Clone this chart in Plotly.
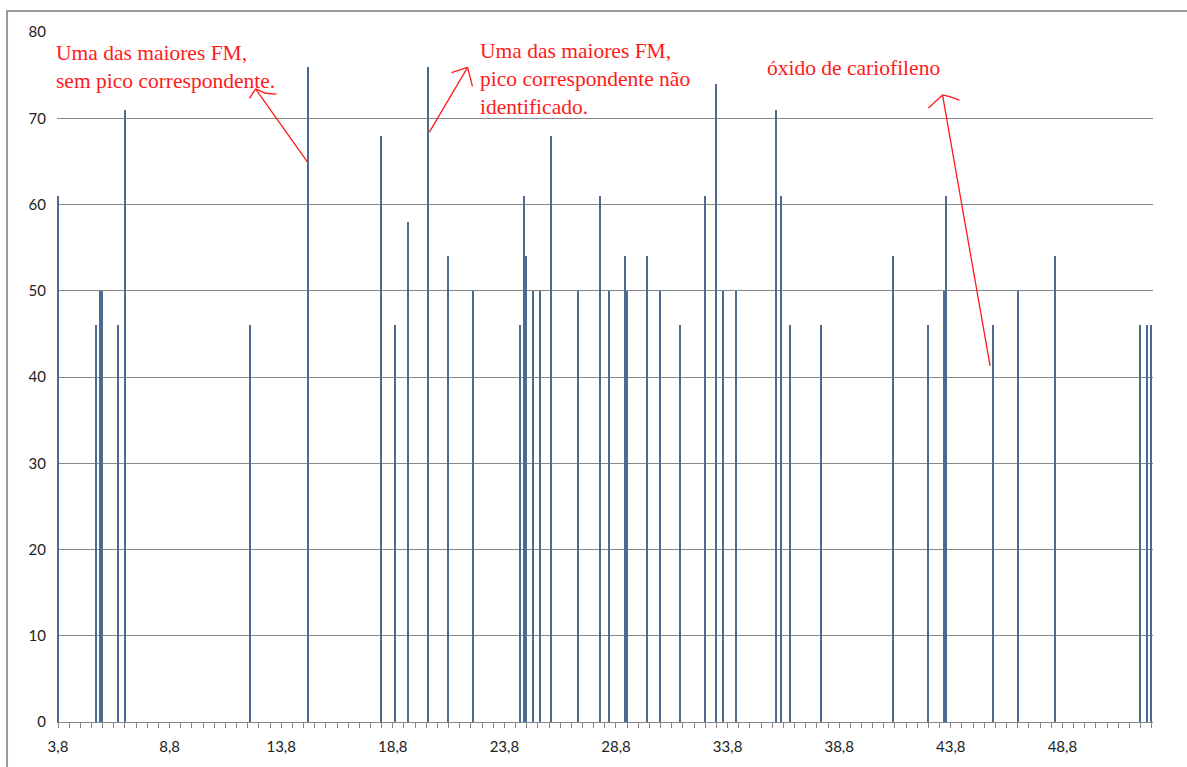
import plotly.graph_objects as go

# Retention times (min) and FM values
rt = [3.8, 5.5, 5.7, 5.8, 6.5, 6.8, 12.4, 15.0, 18.3, 18.9, 19.5, 20.4, 21.3, 22.4,
      24.5, 24.7, 24.8, 25.1, 25.4, 25.9, 27.1, 28.1, 28.5, 29.2, 29.3, 30.2, 30.8,
      31.7, 32.8, 33.3, 33.6, 34.2, 36.0, 36.2, 36.6, 38.0, 41.2, 42.8, 43.5, 43.6,
      45.7, 46.8, 48.5, 52.3, 52.6, 52.8]
fm = [61, 46, 50, 50, 46, 71, 46, 76, 68, 46, 58, 76, 54, 50,
      46, 61, 54, 50, 50, 68, 50, 61, 50, 54, 50, 54, 50,
      46, 61, 74, 50, 50, 71, 61, 46, 46, 54, 46, 50, 61,
      46, 50, 54, 46, 46, 46]

x_tickvals = [3.8, 8.8, 13.8, 18.8, 23.8, 28.8, 33.8, 38.8, 43.8, 48.8]
x_ticktext = ["3,8", "8,8", "13,8", "18,8", "23,8", "28,8", "33,8", "38,8", "43,8", "48,8"]
y_tickvals = [0, 10, 20, 30, 40, 50, 60, 70, 80]

notes = [
    "Uma das maiores FM,<br>sem pico correspondente.",
    "Uma das maiores FM,<br>pico correspondente não<br>identificado.",
    "óxido de cariofileno",
]

BAR = "#4d6a90"
GRID = "#878787"
RED = "#ff1a1a"

fig = go.Figure()
fig.add_trace(go.Bar(x=rt, y=fm, width=0.065, marker=dict(color=BAR, line=dict(width=0)),
                     showlegend=False, hoverinfo="x+y"))

# hand-drawn style arrows (annotation strokes)
arrows = [
    [(14.98, 64.9), (12.65, 73.4)],
    [(12.65, 73.4), (12.38, 72.3)],
    [(12.65, 73.4), (13.10, 72.9), (13.59, 72.8)],
    [(20.44, 68.4), (22.15, 75.9)],
    [(22.15, 75.9), (21.43, 75.3)],
    [(22.15, 75.9), (22.37, 73.7)],
    [(45.56, 41.3), (43.43, 72.7)],
    [(43.43, 72.7), (42.80, 71.2)],
    [(43.43, 72.7), (43.75, 72.5), (44.19, 72.1)],
]
for pts in arrows:
    path = "M " + " L ".join(f"{px},{py}" for px, py in pts)
    fig.add_shape(type="path", path=path, xref="x", yref="y",
                  line=dict(color=RED, width=1.3))

# outer chart border
fig.add_shape(type="rect", xref="paper", yref="paper",
              x0=-0.0456, x1=1.05, y0=-0.1, y1=1.0303,
              line=dict(color="#9a9a9a", width=2), layer="below")

ann_font = dict(family="Liberation Serif", size=21.5, color=RED)
for txt, ax_, ay_ in zip(notes, [-0.003, 0.384, 0.646], [0.9494, 0.932, 0.948]):
    fig.add_annotation(text=txt, xref="paper", yref="paper", x=ax_, y=ay_,
                       xanchor="left", yanchor="middle", align="left", showarrow=False,
                       font=ann_font)

tick_font = dict(family="Lato", size=15, color="#222222")

fig.update_layout(
    width=1187, height=767,
    margin=dict(l=57, r=34, t=32, b=43),
    paper_bgcolor="white", plot_bgcolor="white",
    bargap=0,
    xaxis=dict(
        range=[3.755, 52.86], tickmode="array", tickvals=x_tickvals, ticktext=x_ticktext,
        ticks="outside", ticklen=5, tickcolor=GRID, tickwidth=1,
        minor=dict(dtick=0.5, tick0=3.8, ticks="outside", ticklen=5, tickcolor=GRID, tickwidth=1,
                   showgrid=False),
        showgrid=False, showline=True, linecolor=GRID, linewidth=1.3, zeroline=False,
        tickfont=tick_font, ticklabelstandoff=6,
    ),
    yaxis=dict(
        range=[0, 80], tickmode="array", tickvals=y_tickvals,
        showgrid=True, gridcolor=GRID, gridwidth=1.3, zeroline=False,
        showline=False, ticks="", tickfont=tick_font, ticklabelstandoff=10,
    ),
)

fig.write_html("out.html")
